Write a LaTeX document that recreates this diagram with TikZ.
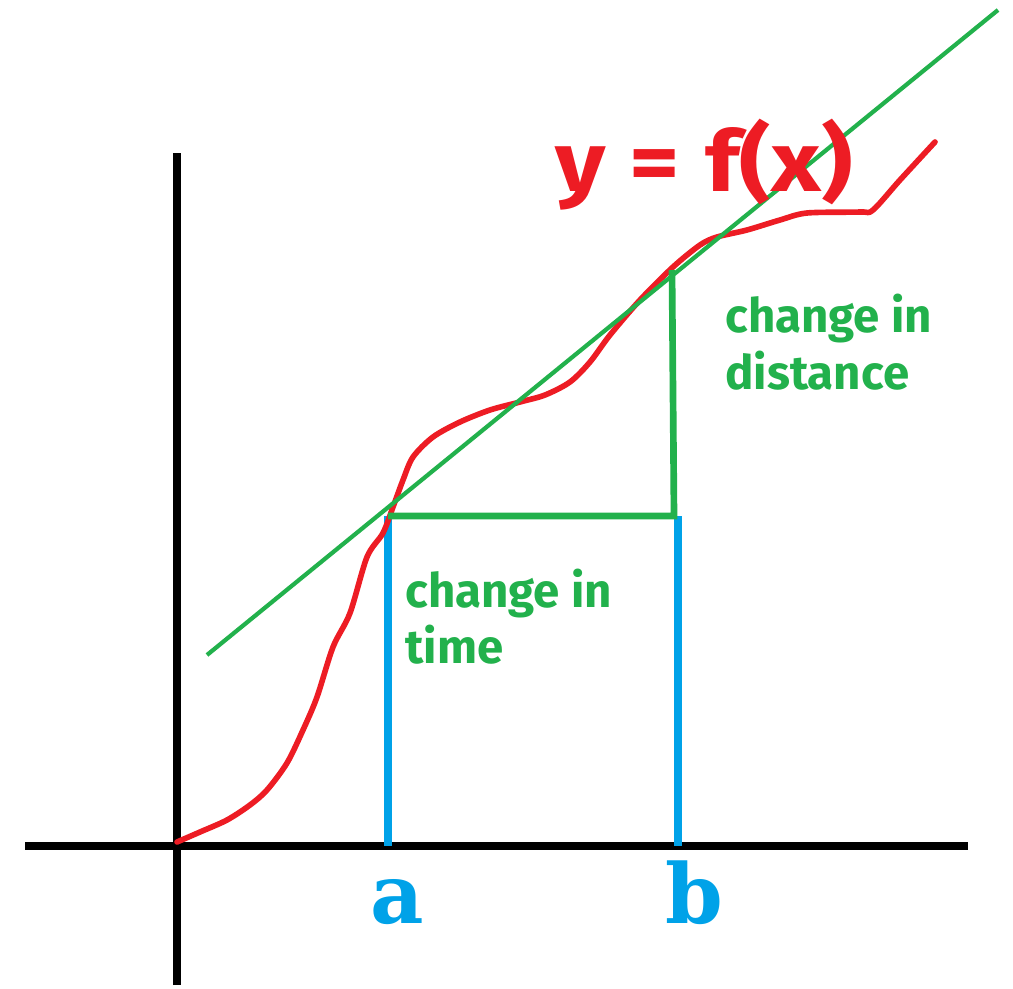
\documentclass[tikz,border=0pt]{standalone}
\usepackage{fontspec}
\newfontfamily\labfont{Fira Sans}
\newfontfamily\abfont{DejaVu Serif}
\definecolor{pred}{HTML}{ED1C24}
\definecolor{pgreen}{HTML}{22B14C}
\definecolor{pblue}{HTML}{00A2E8}
\begin{document}
\begin{tikzpicture}[x=0.02cm,y=-0.02cm,
  axis/.style={line width=4.5pt,black},
  curve/.style={line width=3.2pt,pred,line join=round,line cap=round},
  tangent/.style={line width=2.4pt,pgreen},
  deltabox/.style={line width=3.8pt,pgreen},
  drop/.style={line width=4pt,pblue},
  greentext/.style={inner sep=0pt,anchor=base west,text=pgreen,font=\labfont\bfseries\fontsize{27pt}{27pt}\selectfont},
  ablabel/.style={inner sep=0pt,anchor=base west,text=pblue,font=\abfont\bfseries\fontsize{47pt}{47pt}\selectfont}]
\useasboundingbox (0,0) rectangle (1013,989);
% coordinates
\coordinate (yb) at (177,985);
\coordinate (yt) at (177,153);
\coordinate (xl) at (25,846);
\coordinate (xr) at (968,846);
\coordinate (A) at (388,516);
\coordinate (B) at (674,516);
\coordinate (P) at (672,270);
\coordinate (Ab) at (388,846);
\coordinate (Bb) at (678,846);
\coordinate (Bt) at (678,516);
\coordinate (t1) at (207,655);
\coordinate (t2) at (998,10);
% axes
\draw[axis] (yb) -- (yt);
\draw[axis] (xl) -- (xr);
% blue drops
\draw[drop] (A) -- (Ab);
\draw[drop] (Bt) -- (Bb);
% red curve
\draw[curve] plot[smooth,tension=0.5] coordinates {(177,842) (200,832) (227,820) (250,805) (267,790) (287,763) (303,730) (317,697) (333,647) (350,613) (367,557) (383,533) (393,507) (403,480) (413,457) (433,437) (460,422) (490,410) (520,402) (545,395) (570,382) (590,362) (610,335) (640,300) (673,267) (700,245) (717,237) (747,230) (780,220) (807,213) (860,212) (873,210) (900,180) (935,142)};
% tangent
\draw[tangent] (t1) -- (t2);
% green delta lines
\draw[deltabox] (A) -- (B) -- (P);
% labels
\node[inner sep=0pt,anchor=base west,text=pred,font=\labfont\bfseries\fontsize{48pt}{48pt}\selectfont] (fx) at (555,192) {\scalebox{1.15}[1]{y\hspace{0.25em}=\hspace{0.26em}f(x)}};
\node[greentext] (cd1) at (725,333) {change in};
\node[greentext] (cd2) at (725,390) {distance};
\node[greentext] (ct1) at (405,607) {change in};
\node[greentext] (ct2) at (405,663) {time};
\node[ablabel] (la) at (370,923) {a};
\node[ablabel] (lb) at (665,923) {b};
\end{tikzpicture}
\end{document}
